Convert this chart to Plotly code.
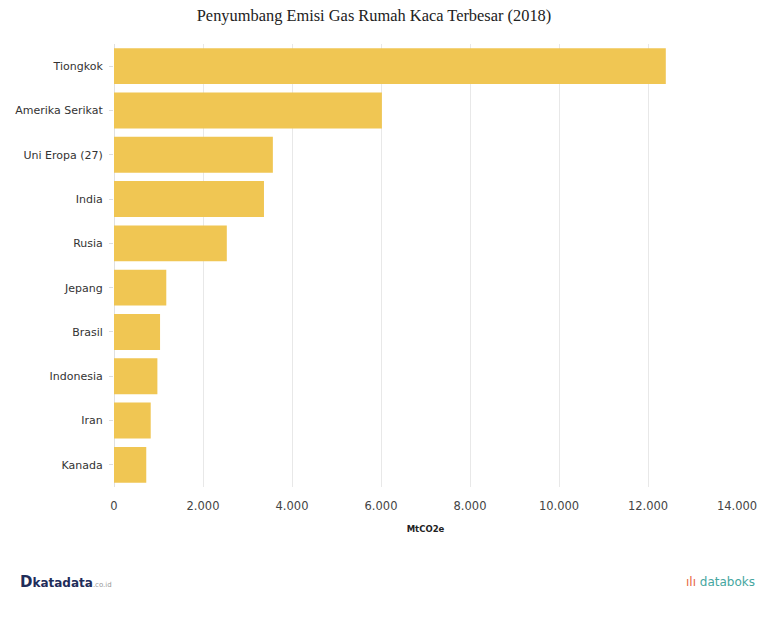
import plotly.graph_objects as go

countries = ["Tiongkok", "Amerika Serikat", "Uni Eropa (27)", "India", "Rusia",
             "Jepang", "Brasil", "Indonesia", "Iran", "Kanada"]
emissions = [12400, 6020, 3570, 3370, 2535, 1175, 1035, 975, 825, 725]
x_ticks = [0, 2000, 4000, 6000, 8000, 10000, 12000, 14000]
x_tick_labels = ["0", "2.000", "4.000", "6.000", "8.000", "10.000", "12.000", "14.000"]

L, R, T, B = 114, 33, 44, 142
W, H = 770, 629
pw, ph = W - L - R, H - T - B

def px(xp):
    return (xp - L) / pw

def py(yp):
    return (H - B - yp) / ph

fig = go.Figure(go.Bar(
    x=emissions, y=countries, orientation="h",
    marker=dict(color="#F0C653", line=dict(width=0)),
    hoverinfo="x+y",
))

fig.update_layout(
    width=W, height=H,
    paper_bgcolor="white", plot_bgcolor="white",
    margin=dict(l=L, r=R, t=T, b=B),
    bargap=0.19,
    showlegend=False,
    title=dict(text="Penyumbang Emisi Gas Rumah Kaca Terbesar (2018)",
               x=374/770, xanchor="center", y=1 - 15/629, yanchor="middle",
               font=dict(family="Liberation Serif", size=16.4, color="#222")),
    font=dict(family="DejaVu Sans", color="#333"),
)

fig.update_xaxes(
    range=[0, 14000], tickvals=x_ticks, ticktext=x_tick_labels,
    showgrid=True, gridcolor="#e8e8e8", gridwidth=1,
    zeroline=True, zerolinecolor="#e0e0e0", zerolinewidth=1,
    showline=False, ticks="", tickfont=dict(size=11.5, color="#444"),
    ticklabelstandoff=10,
    title=dict(text="<b>MtCO2e</b>", font=dict(size=8.5, color="#222"), standoff=14),
)
fig.update_yaxes(
    categoryorder="array", categoryarray=countries, autorange="reversed",
    showgrid=False, ticks="outside", ticklen=4, tickcolor="#dddddd",
    tickfont=dict(size=11, color="#333"), ticklabelstandoff=4,
)

fig.add_annotation(
    x=px(18), y=py(582), xref="paper", yref="paper",
    xanchor="left", yanchor="middle", showarrow=False,
    text="<b><span style='font-size:15px'>D</span>katadata</b><span style='font-size:7px;color:#999'>.co.id</span>",
    font=dict(family="DejaVu Sans", size=12, color="#1f2d5a"),
)
fig.add_annotation(
    x=px(757), y=py(582), xref="paper", yref="paper",
    xanchor="right", yanchor="middle", showarrow=False,
    text="<span style='color:#e8663d'>ılı</span> databoks",
    font=dict(family="DejaVu Sans", size=12, color="#45a6a0"),
)

fig.write_html("out.html")
